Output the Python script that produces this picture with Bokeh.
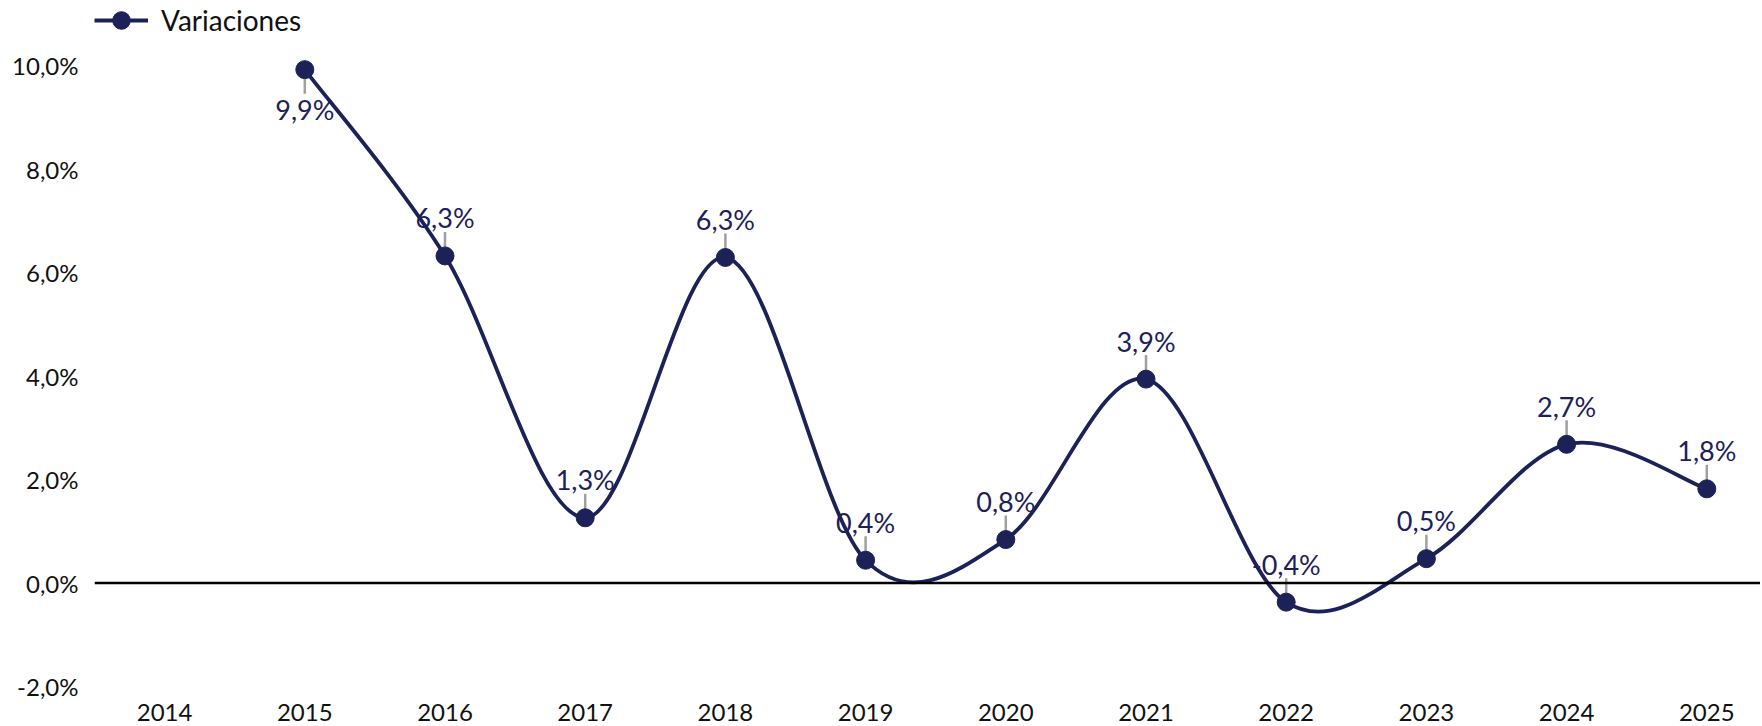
import numpy as np
from bokeh.plotting import figure
from bokeh.models import Range1d, FixedTicker, Span, Legend, LegendItem, ColumnDataSource
from bokeh.embed import file_html
from bokeh.resources import INLINE
from bokeh.core.properties import value

# ---- data ----
years = ["2014", "2015", "2016", "2017", "2018", "2019", "2020",
         "2021", "2022", "2023", "2024", "2025"]
variaciones = [None, 9.92, 6.32, 1.26, 6.29, 0.44, 0.84, 3.94, -0.37, 0.47, 2.68, 1.82]
label_side = [None, "below", "above", "above", "above", "above", "above",
              "above", "above", "above", "above", "above"]
y_ticks = [-2, 0, 2, 4, 6, 8, 10]
y_tick_labels = ["-2,0%", "0,0%", "2,0%", "4,0%", "6,0%", "8,0%", "10,0%"]
series_name = "Variaciones"

# ---- style ----
NAVY = "#1c2158"
FONT = "Lato"
W, H = 1760, 724
B_LEFT, B_BOTTOM, B_TOP, B_RIGHT = 94, 38, 0, 0
frame_h = H - B_BOTTOM - B_TOP
frame_w = W - B_LEFT - B_RIGHT
Y_MIN = -2.0
Y_MAX = Y_MIN + frame_h / 51.75
X_MIN = 0.0
X_MAX = frame_w / 140.2
upp = (Y_MAX - Y_MIN) / frame_h  # data units per pixel

xpos = [i + 0.5 for i in range(len(years))]
pts = [(xpos[i], variaciones[i], label_side[i]) for i in range(len(years)) if variaciones[i] is not None]
px = np.array([q[0] for q in pts])
py = np.array([q[1] for q in pts], dtype=float)
sides = [q[2] for q in pts]
labels = [(f"{v:.1f}".replace(".", ",") + "%") for v in py]

p = figure(width=W, height=H, output_backend="svg", toolbar_location=None,
           x_range=Range1d(X_MIN, X_MAX), y_range=Range1d(Y_MIN, Y_MAX),
           min_border_left=B_LEFT, min_border_right=B_RIGHT,
           min_border_top=B_TOP, min_border_bottom=B_BOTTOM)
p.outline_line_color = None
p.xgrid.grid_line_color = None
p.ygrid.grid_line_color = None
p.background_fill_color = "white"

for ax in (p.xaxis[0], p.yaxis[0]):
    ax.axis_line_color = None
    ax.major_tick_line_color = None
    ax.minor_tick_line_color = None
    ax.major_tick_out = 0
    ax.major_tick_in = 0
    ax.major_label_text_font = FONT
    ax.major_label_text_font_size = "24px"
    ax.major_label_text_color = "#111111"

p.xaxis[0].ticker = FixedTicker(ticks=xpos)
p.xaxis[0].major_label_overrides = {xpos[i]: years[i] for i in range(len(years))}
p.xaxis[0].major_label_standoff = 17
p.yaxis[0].ticker = FixedTicker(ticks=y_ticks)
p.yaxis[0].major_label_overrides = {y_ticks[i]: y_tick_labels[i] for i in range(len(y_ticks))}
p.yaxis[0].major_label_standoff = 16

p.add_layout(Span(location=0, dimension="width", line_color="black", line_width=2.5))

# leader lines
lead_y0, lead_y1, yoffs = [], [], []
for v, s in zip(py, sides):
    if s == "above":
        lead_y0.append(v + 5 * upp); lead_y1.append(v + 24 * upp); yoffs.append(-38)
    else:
        lead_y0.append(v - 5 * upp); lead_y1.append(v - 24 * upp); yoffs.append(40)
p.segment(x0=px, y0=lead_y0, x1=px, y1=lead_y1, line_color="#a0a0a0", line_width=2.5)

# data labels
lsrc = ColumnDataSource(dict(x=px, y=py, text=labels, yoff=yoffs))
p.text(x="x", y="y", text="text", y_offset="yoff", source=lsrc,
       text_font=value(FONT), text_font_size="27px", text_color=NAVY,
       text_align="center", text_baseline="alphabetic")

# smoothed line (Catmull-Rom style bezier segments, like spreadsheet smoothing)
n = len(px)
x0s, y0s, x1s, y1s, cx0, cy0, cx1, cy1 = [], [], [], [], [], [], [], []
for k in range(n - 1):
    pm = k - 1 if k > 0 else k
    pp = k + 2 if k + 2 < n else k + 1
    x0s.append(px[k]); y0s.append(py[k]); x1s.append(px[k + 1]); y1s.append(py[k + 1])
    cx0.append(px[k] + (px[k + 1] - px[pm]) / 6); cy0.append(py[k] + (py[k + 1] - py[pm]) / 6)
    cx1.append(px[k + 1] - (px[pp] - px[k]) / 6); cy1.append(py[k + 1] - (py[pp] - py[k]) / 6)
curve = p.bezier(x0=x0s, y0=y0s, x1=x1s, y1=y1s, cx0=cx0, cy0=cy0, cx1=cx1, cy1=cy1,
                 line_color=NAVY, line_width=3.8, line_cap="round")

mk = p.scatter(x=px, y=py, size=18, fill_color=NAVY, line_color=NAVY, marker="circle")
dummy = p.line(x=[float("nan")], y=[float("nan")], line_color=NAVY, line_width=3.8)

legend = Legend(items=[LegendItem(label=series_name, renderers=[dummy, mk])],
                location=(0, frame_h - 42), glyph_width=54, glyph_height=44,
                label_text_font=FONT, label_text_font_size="28px", label_text_color="#111111",
                label_standoff=13, padding=0, margin=0, spacing=0,
                border_line_color=None, background_fill_alpha=0)
p.add_layout(legend)

open("out.html", "w").write(file_html(p, INLINE))
